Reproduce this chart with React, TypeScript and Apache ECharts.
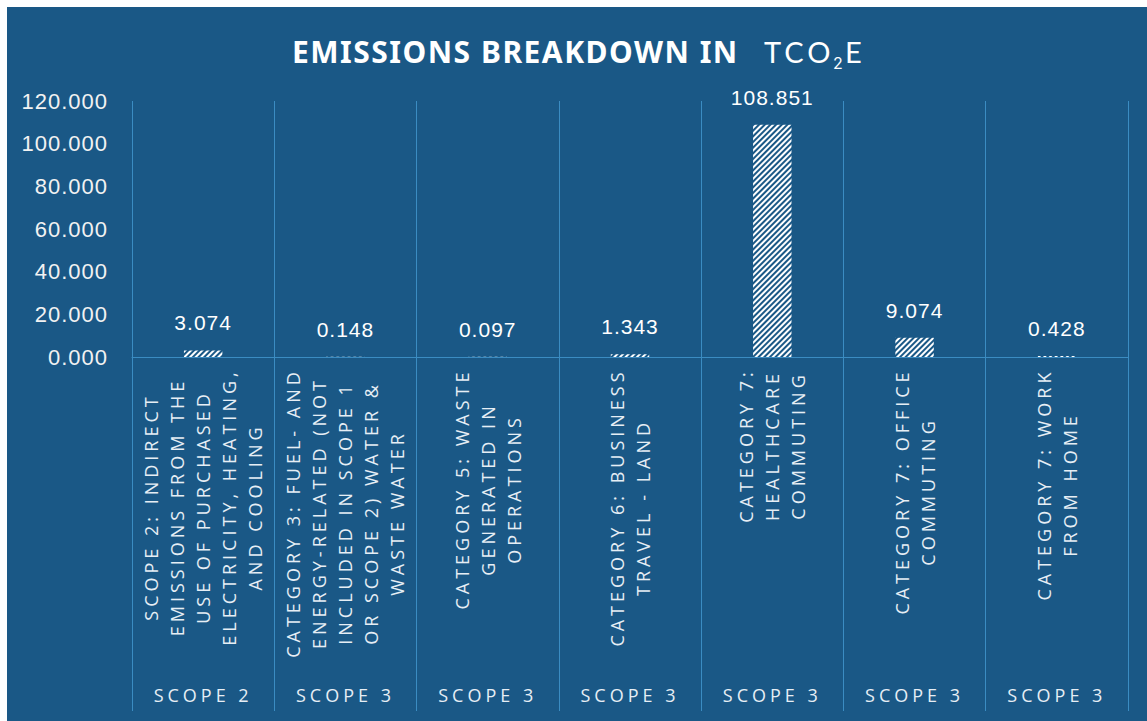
import React, { useEffect, useRef } from 'react';
import * as echarts from 'echarts';

const CATEGORIES: string[] = [
  'SCOPE 2: INDIRECT\nEMISSIONS FROM THE\nUSE OF PURCHASED\nELECTRICITY, HEATING,\nAND COOLING',
  'CATEGORY 3: FUEL- AND\nENERGY-RELATED (NOT\nINCLUDED IN SCOPE 1\nOR SCOPE 2) WATER &\nWASTE WATER',
  'CATEGORY 5: WASTE\nGENERATED IN\nOPERATIONS',
  'CATEGORY 6: BUSINESS\nTRAVEL - LAND',
  'CATEGORY 7:\nHEALTHCARE\nCOMMUTING',
  'CATEGORY 7: OFFICE\nCOMMUTING',
  'CATEGORY 7: WORK\nFROM HOME',
];
const SCOPES: string[] = ['SCOPE 2', 'SCOPE 3', 'SCOPE 3', 'SCOPE 3', 'SCOPE 3', 'SCOPE 3', 'SCOPE 3'];
const VALUES: number[] = [3.074, 0.148, 0.097, 1.343, 108.851, 9.074, 0.428];
const Y_MIN = 0;
const Y_MAX = 120;
const Y_STEP = 20;

const BG = '#1a5886';
const SEP = '#3b8cc2';
const LABEL_FONT = 'Open Sans';
const LABEL_SIZE = 18;
const LABEL_SPACING = 4;

const css = `
.emchart text[style*="Open Sans"] { letter-spacing: ${LABEL_SPACING}px; }
.emchart text[style*="Noto Sans"] { letter-spacing: 1.5px; }
.emchart text[style*="Lato"] { letter-spacing: 4px; }
.emchart text[style*="Liberation Sans"] { letter-spacing: 1px; }
`;

function measure(text: string, font: string, spacing: number): number {
  const c = document.createElement('canvas');
  const ctx = c.getContext('2d');
  if (!ctx) return text.length * 12;
  ctx.font = font;
  return ctx.measureText(text).width + spacing * text.length;
}

export default function App() {
  const ref = useRef<HTMLDivElement>(null);
  useEffect(() => {
    if (!ref.current) return;
    const chart = echarts.init(ref.current, null, { renderer: 'svg' });
    const rich: Record<string, any> = {};
    CATEGORIES.forEach((c, i) => {
      const w = Math.max(
        ...c.split('\n').map((l) => measure(l, `${LABEL_SIZE}px "${LABEL_FONT}"`, LABEL_SPACING))
      );
      rich['r' + i] = {
        width: Math.ceil(w),
        align: 'center',
        fontFamily: LABEL_FONT,
        fontSize: LABEL_SIZE,
        color: '#e6eef5',
        lineHeight: 26,
      };
    });
    const option: any = {
      animation: false,
      backgroundColor: BG,
      aria: { enabled: true, decal: { show: true } },
      title: [
        {
          text: 'EMISSIONS BREAKDOWN IN',
          left: 285,
          top: 27,
          padding: 0,
          textStyle: { color: '#ffffff', fontFamily: 'Noto Sans', fontWeight: 'bold', fontSize: 30, lineHeight: 34 },
        },
        {
          text: 'TCO',
          left: 757,
          top: 27,
          padding: 0,
          textStyle: { color: '#ffffff', fontFamily: 'Lato', fontWeight: 'normal', fontSize: 29, lineHeight: 34 },
        },
        {
          text: '2',
          left: 826,
          top: 46,
          padding: 0,
          textStyle: { color: '#ffffff', fontFamily: 'Inter', fontWeight: 'normal', fontSize: 16, lineHeight: 20 },
        },
        {
          text: 'E',
          left: 838,
          top: 27,
          padding: 0,
          textStyle: { color: '#ffffff', fontFamily: 'Lato', fontWeight: 'normal', fontSize: 29, lineHeight: 34 },
        },
      ],
      grid: { left: 125, top: 94, right: 19, bottom: 364, containLabel: false },
      xAxis: [
        {
          type: 'category',
          data: CATEGORIES,
          position: 'bottom',
          axisLine: { show: true, lineStyle: { color: SEP, width: 1 } },
          axisTick: { show: true, length: 354, interval: 0, lineStyle: { color: SEP, width: 1 } },
          splitLine: { show: true, interval: 0, lineStyle: { color: SEP, width: 1 } },
          axisLabel: {
            interval: 0,
            rotate: 90,
            margin: 11,
            hideOverlap: false,
            formatter: (value: string, index: number) =>
              value
                .split('\n')
                .map((l) => `{r${index}|${l}}`)
                .join('\n'),
            rich,
          },
        },
        {
          type: 'category',
          data: SCOPES,
          position: 'bottom',
          offset: 322,
          axisLine: { show: false },
          axisTick: { show: false },
          splitLine: { show: false },
          axisLabel: {
            interval: 0,
            margin: 7,
            fontFamily: LABEL_FONT,
            fontSize: LABEL_SIZE,
            color: '#e6eef5',
          },
        },
      ],
      yAxis: {
        type: 'value',
        min: Y_MIN,
        max: Y_MAX,
        interval: Y_STEP,
        axisLine: { show: false },
        axisTick: { show: false },
        splitLine: { show: false },
        axisLabel: {
          margin: 24,
          color: '#f2f2f2',
          fontFamily: 'Liberation Sans',
          fontSize: 22,
          formatter: (v: number) => v.toFixed(3),
        },
      },
      series: [
        {
          type: 'bar',
          xAxisIndex: 0,
          data: VALUES,
          barWidth: '27%',
          itemStyle: {
            color: BG,
            decal: {
              symbol: 'rect',
              symbolSize: 1,
              color: '#ffffff',
              dashArrayX: [1, 0],
              dashArrayY: [2, 2],
              rotation: -Math.PI / 4,
            },
          },
          label: {
            show: true,
            position: 'top',
            distance: 17,
            color: '#ffffff',
            fontFamily: 'Liberation Sans',
            fontSize: 21,
            formatter: (p: any) => Number(p.value).toFixed(3),
          },
        },
      ],
    };
    chart.setOption(option);
    return () => chart.dispose();
  }, []);
  return (
    <>
      <style>{css}</style>
      <div
        ref={ref}
        className="emchart"
        style={{ position: 'fixed', left: 7, top: 7, width: 1140, height: 714, background: BG }}
      />
    </>
  );
}
